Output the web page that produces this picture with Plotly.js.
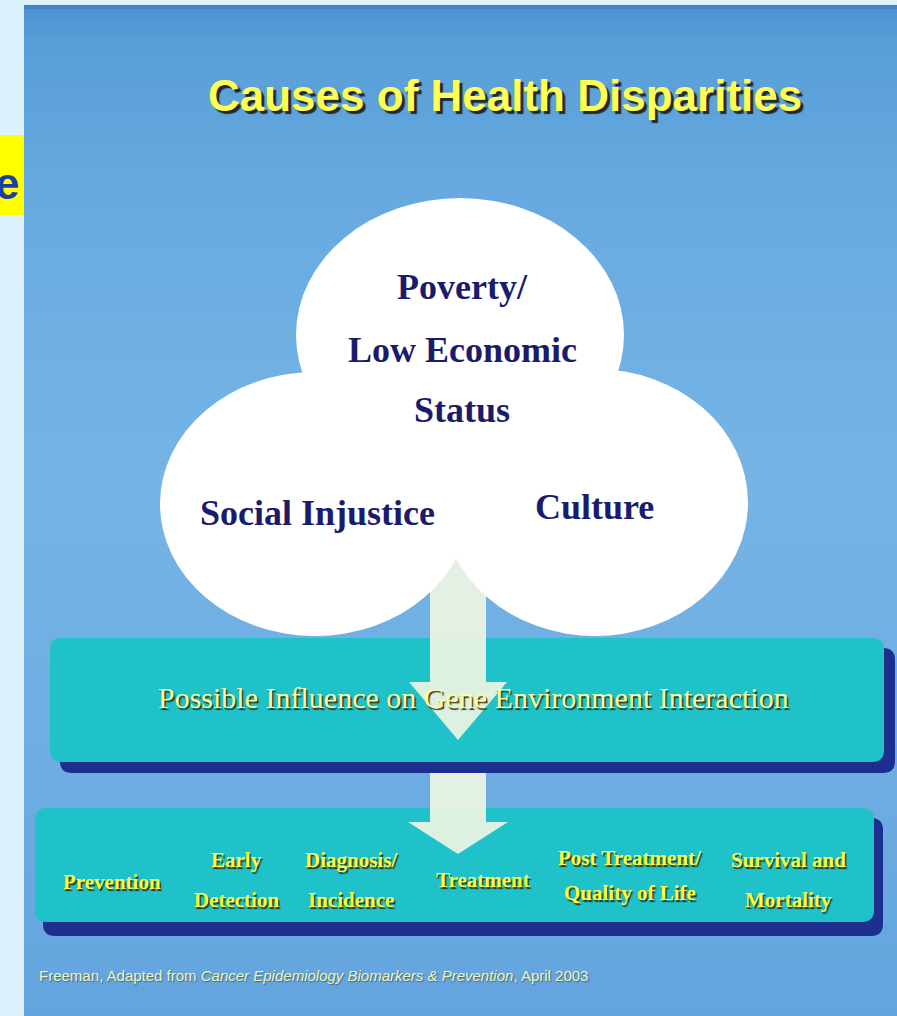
<!DOCTYPE html>
<html>
<head>
<meta charset="utf-8">
<script src="https://cdn.plot.ly/plotly-3.0.1.min.js"></script>
<style>html,body{margin:0;padding:0;background:#dbf1fc;overflow:hidden;}</style>
</head>
<body>
<div id="chart" style="width:897px;height:1016px;"></div>
<script>
// ---- content ----
const titleText = "Causes of Health Disparities";
const povertyLines = ["Poverty/", "Low Economic", "Status"];
const causeLabels = ["Social Injustice", "Culture"];
const influenceText = "Possible Influence on Gene Environment Interaction";
const stageLines = [
  ["Prevention"],
  ["Early", "Detection"],
  ["Diagnosis/", "Incidence"],
  ["Treatment"],
  ["Post Treatment/", "Quality of Life"],
  ["Survival and", "Mortality"]
];
const sourceNote = "Freeman, Adapted from <i>Cancer Epidemiology Biomarkers &amp; Prevention</i>, April 2003";
const sideLetter = "e";

// ---- layout geometry (pixels, y downwards) ----
const W = 897, H = 1016;
const povertyPos = {x: 462, ys: [287, 350, 410]};
const causePos = [{x: 317, y: 513}, {x: 594, y: 507}];
const stageX = [112, 236, 351, 483, 630, 788];
const stageY1 = [882, 860, 860, 880, 858, 860];
const stageY2 = [null, 900, 900, null, 893, 900];

function rr(x0, y0, x1, y1, r) {
  return `M${x0+r},${y0} L${x1-r},${y0} Q${x1},${y0} ${x1},${y0+r} L${x1},${y1-r} Q${x1},${y1} ${x1-r},${y1} ` +
         `L${x0+r},${y1} Q${x0},${y1} ${x0},${y1-r} L${x0},${y0+r} Q${x0},${y0} ${x0+r},${y0} Z`;
}

const teal = "#1fc2c9", navy = "#1c2f8e", white = "#ffffff";
const arrowFill = "rgba(238,245,228,0.92)";

// background gradient stops (decoration)
const bgStops = [[5, [74,146,208]], [45, [88,158,216]], [200, [104,170,224]], [480, [118,180,229]], [800, [108,172,226]], [1016, [100,164,222]]];
function bgColor(y) {
  for (let i = 0; i < bgStops.length - 1; i++) {
    const [ya, ca] = bgStops[i], [yb, cb] = bgStops[i + 1];
    if (y <= yb) {
      const t = (y - ya) / (yb - ya);
      const c = ca.map((v, k) => Math.round(v + (cb[k] - v) * t));
      return `rgb(${c[0]},${c[1]},${c[2]})`;
    }
  }
  const c = bgStops[bgStops.length - 1][1];
  return `rgb(${c[0]},${c[1]},${c[2]})`;
}

const shapes = [];
const band = 8;
for (let y = 5; y < H; y += band) {
  shapes.push({type: "rect", x0: 24, x1: W, y0: y, y1: Math.min(y + band + 1, H), fillcolor: bgColor(y + band / 2), line: {width: 0}, layer: "below"});
}
shapes.push(
  {type: "rect", x0: 24, x1: W, y0: 5, y1: 9, fillcolor: "rgba(60,125,190,0.6)", line: {width: 0}},
  // side yellow tag
  {type: "rect", x0: 0, x1: 24, y0: 135, y1: 215, fillcolor: "#ffff00", line: {width: 0}},
  // box 1
  {type: "path", path: rr(60, 648, 895, 773, 12), fillcolor: navy, line: {width: 0}},
  {type: "path", path: rr(50, 638, 884, 762, 12), fillcolor: teal, line: {width: 0}},
  // box 2
  {type: "path", path: rr(43, 818, 883, 936, 12), fillcolor: navy, line: {width: 0}},
  {type: "path", path: rr(35, 808, 874, 922, 12), fillcolor: teal, line: {width: 0}},
  // arrows
  {type: "path", path: "M430,540 L486,540 L486,682 L507,682 L458,740 L409,682 L430,682 Z", fillcolor: arrowFill, line: {width: 0}},
  {type: "path", path: "M430,773 L486,773 L486,822 L508,822 L458,854 L408,822 L430,822 Z", fillcolor: arrowFill, line: {width: 0}},
  // circles
  {type: "circle", x0: 296, x1: 624, y0: 198, y1: 472, fillcolor: white, line: {width: 0}},
  {type: "circle", x0: 160, x1: 470, y0: 372, y1: 636, fillcolor: white, line: {width: 0}},
  {type: "circle", x0: 442, x1: 748, y0: 369, y1: 636, fillcolor: white, line: {width: 0}}
);

const annotations = [];
function addText(text, x, y, font, xanchor) {
  annotations.push({text: text, x: x, y: y, xref: "x", yref: "y", showarrow: false,
    xanchor: xanchor || "center", yanchor: "middle", font: font});
}

const serif = "Liberation Serif, Times New Roman, serif";
const sans = "Liberation Sans, Arial, sans-serif";

// title
addText(titleText, 505, 95, {family: sans, size: 44, weight: 700, color: "#ffff55",
  shadow: "3px 3px 1px rgba(25,25,25,0.9)"});

// circle texts
const circleFont = {family: serif, size: 36, weight: 700, color: "#1b1b6b"};
povertyLines.forEach((t, i) => addText(t, povertyPos.x, povertyPos.ys[i], circleFont));
causeLabels.forEach((t, i) => addText(t, causePos[i].x, causePos[i].y, circleFont));

// influence box text
addText(influenceText, 473, 697, {family: serif, size: 30, color: "#ffffa0",
  shadow: "1.5px 1.5px 1px rgba(40,40,10,0.9)"});

// stages
const stageFont = {family: serif, size: 21, weight: 700, color: "#ffff44", shadow: "1.5px 1.5px 1px rgba(40,40,10,0.9)"};
stageLines.forEach((lines, i) => {
  addText(lines[0], stageX[i], stageY1[i], stageFont);
  if (lines.length > 1) addText(lines[1], stageX[i], stageY2[i], stageFont);
});

// source
addText(sourceNote, 37, 975, {family: sans, size: 15, color: "#f0f6b8", shadow: "1px 1px 1px rgba(40,60,90,0.6)"}, "left");

// side letter (partly off the left edge, as in the reference)
addText(sideLetter, 21, 183, {family: sans, size: 44, weight: 700, color: "#1f3fa0"}, "right");

const layout = {
  width: W, height: H,
  margin: {l: 0, r: 0, t: 0, b: 0, pad: 0},
  paper_bgcolor: "#dbf1fc",
  plot_bgcolor: "rgba(0,0,0,0)",
  showlegend: false,
  xaxis: {range: [0, W], visible: false, fixedrange: true},
  yaxis: {range: [H, 0], visible: false, fixedrange: true},
  shapes: shapes,
  annotations: annotations
};

Plotly.newPlot("chart", [], layout, {displayModeBar: false, staticPlot: true});
</script>
</body>
</html>
